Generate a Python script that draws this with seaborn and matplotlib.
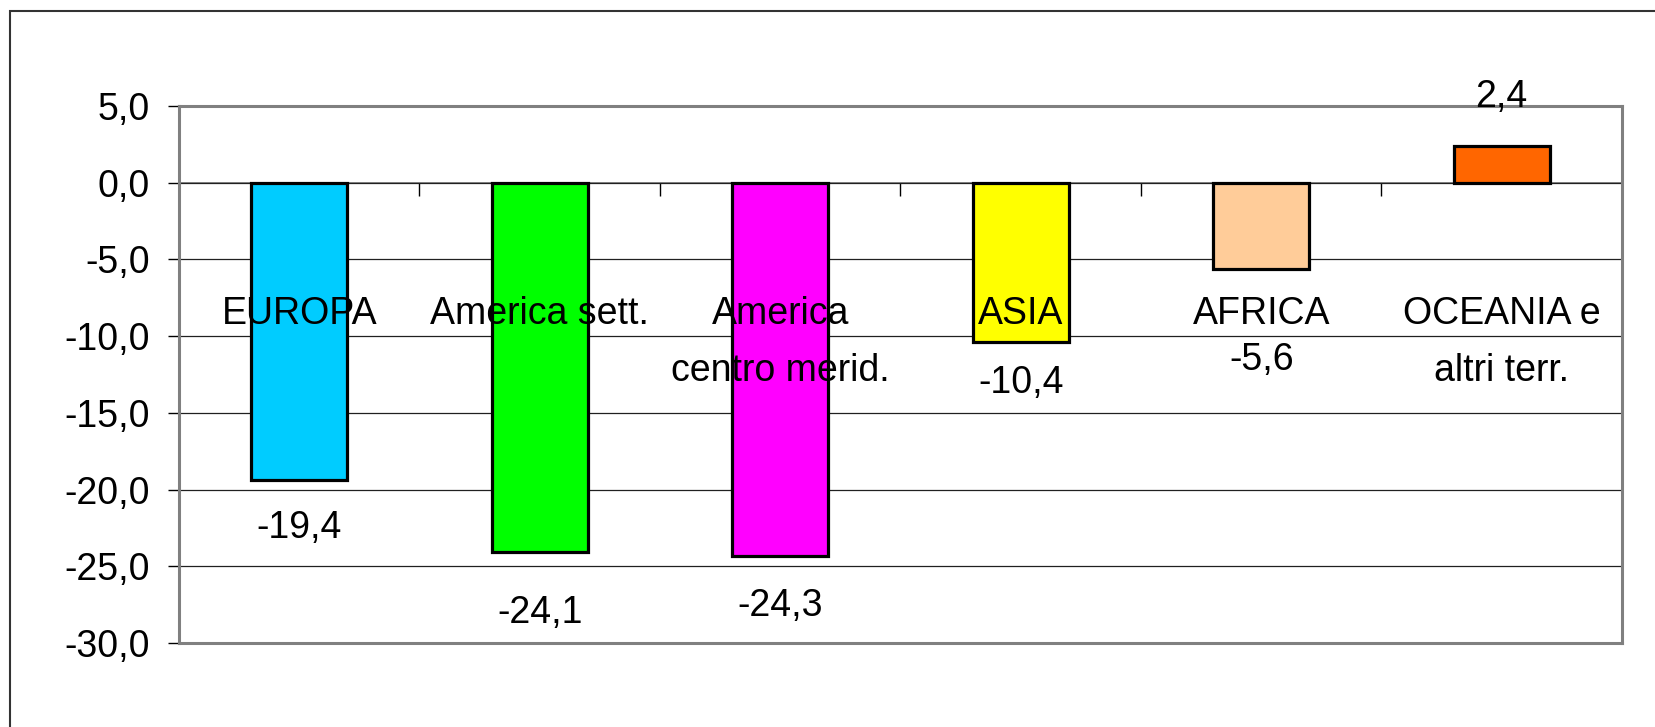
import matplotlib
matplotlib.use('Agg')
import matplotlib.pyplot as plt
import matplotlib.ticker as mticker
from matplotlib.patches import Rectangle
import seaborn as sns
import pandas as pd

# dati
aree = ['EUROPA', 'America sett.', 'America\ncentro merid.', 'ASIA', 'AFRICA', 'OCEANIA e\naltri terr.']
variazioni = [-19.4, -24.1, -24.3, -10.4, -5.6, 2.4]
colori = ['#00CCFF', '#00FF00', '#FF00FF', '#FFFF00', '#FFCC99', '#FF6600']
y_ticks = [-30, -25, -20, -15, -10, -5, 0, 5]

# spostamento etichette valori (pixel, come nell'originale spostate a mano)
spost_etichette = [58, 71, 60, 51, 101, -39]

sns.set_style('white')
plt.rcParams['font.family'] = ['Liberation Sans', 'DejaVu Sans']
plt.rcParams['text.color'] = 'black'
plt.rcParams['ytick.color'] = 'black'
plt.rcParams['ytick.labelcolor'] = 'black'

W, H = 1656, 727
fig = plt.figure(figsize=(W / 100, H / 100), dpi=100)
ax = fig.add_axes([179 / W, 1 - 643 / H, (1622 - 179) / W, (643 - 106) / H])

df = pd.DataFrame({'area': aree, 'var': variazioni})
sns.barplot(data=df, x='area', y='var', hue='area', palette=colori, saturation=1, width=0.4,
            edgecolor='black', linewidth=2.3, legend=False, ax=ax, zorder=3)

ax.set_xlim(-0.5, len(aree) - 0.5)
ax.set_ylim(-30, 5)
ax.set_yticks(y_ticks)
ax.yaxis.set_major_formatter(mticker.FuncFormatter(lambda v, p: f'{v:.1f}'.replace('.', ',')))
ax.tick_params(axis='y', left=True, direction='out', length=8, width=1, color='black',
               pad=13, labelsize=27, labelcolor='black')
ax.tick_params(axis='x', bottom=False, labelbottom=False)
ax.set_xlabel('')
ax.set_ylabel('')

ax.yaxis.grid(True, color='#202020', linewidth=0.9)
ax.set_axisbelow(True)
for s in ax.spines.values():
    s.set_color('#808080')
    s.set_linewidth(2.2)
    s.set_visible(True)

# asse delle categorie a quota zero
secax = ax.secondary_xaxis(30 / 35)
secax.set_xticks([i - 0.5 for i in range(len(aree) + 1)])
secax.tick_params(direction='in', length=9, width=1, color='black', labeltop=False, labelbottom=False)
secax.spines['top'].set_color('#808080')
secax.spines['top'].set_linewidth(1.3)

# etichette categorie
for i, a in enumerate(aree):
    ax.text(i, -7.4, a, ha='center', va='top', fontsize=27, linespacing=1.75,
            color='black', zorder=5)

# etichette valori
for i, (v, d) in enumerate(zip(variazioni, spost_etichette)):
    ax.annotate(f'{v:.1f}'.replace('.', ','), xy=(i, v), xytext=(0, -d * 0.72),
                textcoords='offset points', ha='center', va='baseline', fontsize=27,
                color='black', annotation_clip=False, zorder=5)

# cornice esterna
fig.add_artist(Rectangle((10 / W, -0.5), 2, 1.5 - 11 / H, transform=fig.transFigure,
                         fill=False, edgecolor='#333333', linewidth=1.5))

fig.savefig('out.png', dpi=100)
